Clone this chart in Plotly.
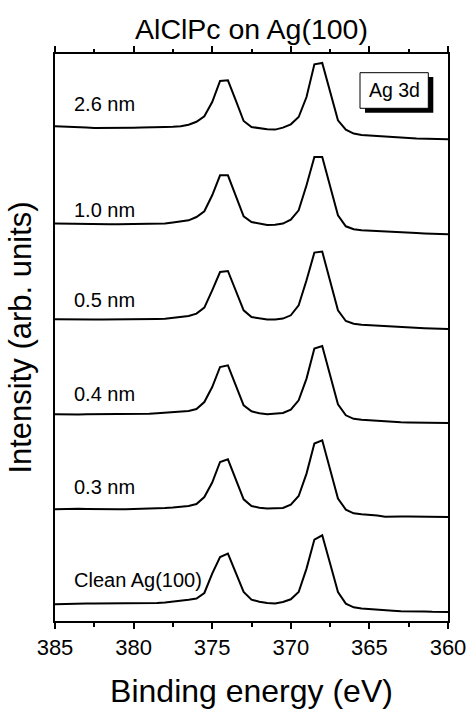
import plotly.graph_objects as go

# Binding energy grid (eV), 0.5 eV steps from 385 down to 360
energy = [385 - 0.5 * i for i in range(51)]

# Ag 3d spectra, stacked (arb. units), one list per coverage
clean_ag100 = [16.7, 17.0, 17.2, 17.3, 17.4, 17.4, 17.4, 17.4, 17.4, 17.4,
               17.4, 17.5, 17.7, 18.0, 18.4, 19.2, 20.0, 21.2, 22.4, 28.0,
               47.4, 64.0, 67.4, 47.4, 29.0, 21.4, 19.2, 18.0, 17.4, 19.0,
               21.7, 29.0, 52.4, 81.4, 85.7, 57.4, 29.0, 17.4, 13.7, 12.4,
               11.7, 11.2, 10.7, 10.2, 9.7, 9.8, 9.9, 9.5, 9.2, 9.1,
               9.0]
cov_0p3 = [111.7, 112.0, 112.4, 112.2, 112.0, 111.8, 111.7, 111.7, 111.7, 111.8,
           111.9, 112.1, 112.4, 112.6, 112.9, 113.4, 114.0, 115.0, 117.0, 124.0,
           138.4, 159.0, 161.7, 142.4, 121.7, 115.0, 113.2, 112.4, 112.5, 113.0,
           116.4, 125.0, 147.4, 177.4, 180.7, 150.7, 122.4, 111.4, 107.7, 106.7,
           106.2, 105.5, 104.2, 104.0, 104.4, 104.5, 104.5, 104.3, 104.2, 104.1,
           104.0]
cov_0p4 = [206.7, 206.5, 206.4, 206.5, 206.7, 206.7, 206.7, 206.7, 206.7, 206.8,
           206.9, 207.0, 207.2, 207.7, 208.2, 208.4, 209.2, 210.0, 212.0, 219.0,
           234.0, 254.0, 255.7, 235.7, 215.7, 209.7, 207.7, 206.7, 207.2, 208.0,
           211.4, 220.7, 242.4, 272.4, 275.0, 245.7, 216.7, 205.7, 202.2, 201.2,
           200.7, 200.2, 199.2, 198.9, 198.7, 198.6, 198.5, 198.3, 198.2, 198.1,
           198.0]
cov_0p5 = [301.7, 301.5, 301.4, 301.4, 301.4, 301.4, 301.4, 301.4, 301.4, 301.5,
           301.6, 301.7, 301.7, 302.0, 302.2, 303.0, 304.0, 305.0, 307.4, 313.4,
           330.7, 349.0, 350.0, 330.7, 310.7, 304.0, 302.4, 301.4, 301.4, 302.4,
           305.7, 315.7, 340.7, 368.4, 369.4, 340.7, 310.7, 300.0, 297.2, 296.2,
           295.7, 295.2, 294.7, 294.3, 293.9, 293.4, 293.1, 292.8, 292.5, 292.2,
           292.0]
cov_1p0 = [397.4, 397.2, 397.0, 396.8, 396.7, 396.7, 396.7, 396.7, 396.7, 396.7,
           396.7, 396.8, 396.9, 397.1, 397.4, 398.4, 399.2, 400.7, 404.0, 409.7,
           425.7, 445.7, 445.7, 425.7, 404.7, 399.0, 397.2, 396.0, 396.2, 397.4,
           401.4, 410.7, 435.7, 464.0, 464.0, 434.0, 405.7, 394.7, 391.7, 390.7,
           390.2, 389.7, 389.2, 388.9, 388.7, 388.4, 387.9, 387.5, 387.2, 386.9,
           386.7]
cov_2p6 = [494.7, 494.2, 493.9, 493.5, 493.4, 493.1, 493.0, 493.1, 493.0, 493.2,
           493.3, 493.4, 493.4, 493.7, 493.9, 494.2, 494.7, 496.2, 499.2, 504.7,
           519.0, 540.0, 540.7, 520.7, 500.0, 494.0, 492.7, 491.7, 491.4, 493.4,
           496.7, 504.0, 524.0, 556.7, 558.0, 530.7, 500.7, 491.4, 487.4, 486.0,
           485.4, 484.7, 484.2, 483.9, 483.4, 482.9, 482.5, 482.2, 482.0, 481.8,
           481.7]

spectra = [clean_ag100, cov_0p3, cov_0p4, cov_0p5, cov_1p0, cov_2p6]
labels = ["Clean Ag(100)", "0.3 nm", "0.4 nm", "0.5 nm", "1.0 nm", "2.6 nm"]

FONT = "Liberation Sans, Arial, Helvetica, sans-serif"
W, H = 472, 709
M_L, M_R, M_T, M_B = 55, 24, 54, 88

# label placement (left edge energy and vertical centre, in data units)
label_x = 383.95
label_y = [41.4, 134.0, 227.4, 320.7, 411.4, 517.0]

fig = go.Figure()
for ys, name in zip(spectra, labels):
    fig.add_trace(go.Scatter(x=energy, y=ys, mode="lines", name=name,
                             line=dict(color="black", width=2),
                             showlegend=False, hoverinfo="skip"))

annotations = []
for name, ly in zip(labels, label_y):
    annotations.append(dict(x=label_x, y=ly, xref="x", yref="y", text=name,
                            showarrow=False, xanchor="left", yanchor="middle",
                            font=dict(family=FONT, size=20, color="black")))


def px_to_paper(px, py):
    pw = W - M_L - M_R
    ph = H - M_T - M_B
    return (px - M_L) / pw, (H - M_B - py) / ph


# "Ag 3d" inset box with drop shadow
sx0, sy0 = px_to_paper(365, 112.7)
sx1, sy1 = px_to_paper(433.3, 77)
bx0, by0 = px_to_paper(360, 108.3)
bx1, by1 = px_to_paper(428.3, 72.7)
shapes = [
    dict(type="rect", xref="paper", yref="paper", x0=sx0, y0=sy0, x1=sx1, y1=sy1,
         fillcolor="black", line=dict(width=0), layer="above"),
    dict(type="rect", xref="paper", yref="paper", x0=bx0, y0=by0, x1=bx1, y1=by1,
         fillcolor="white", line=dict(color="black", width=1), layer="above"),
]
annotations.append(dict(x=(bx0 + bx1) / 2, y=(by0 + by1) / 2, xref="paper", yref="paper",
                        text="Ag 3d", showarrow=False, xanchor="center", yanchor="middle",
                        font=dict(family=FONT, size=19.5, color="black")))

fig.update_layout(
    width=W, height=H,
    margin=dict(l=M_L, r=M_R, t=M_T, b=M_B),
    paper_bgcolor="white", plot_bgcolor="white",
    font=dict(family=FONT, color="black"),
    title=dict(text="AlClPc on Ag(100)", x=0.5, xref="paper", xanchor="center",
               y=1 - 29 / H, yref="container", yanchor="middle",
               font=dict(family=FONT, size=28.5, color="black")),
    xaxis=dict(range=[385, 360], tick0=360, dtick=5, ticks="outside", ticklen=6,
               tickwidth=1.5, tickcolor="black",
               minor=dict(dtick=2.5, ticks="outside", ticklen=3.5, tickwidth=1.5,
                          tickcolor="black"),
               showline=True, linewidth=2, linecolor="black", mirror="allticks",
               showgrid=False, zeroline=False, automargin=False,
               tickfont=dict(family=FONT, size=22, color="black"),
               title=dict(text="Binding energy (eV)", standoff=20,
                          font=dict(family=FONT, size=32, color="black"))),
    yaxis=dict(range=[0, H - M_T - M_B], showline=True, linewidth=2, linecolor="black",
               mirror=True, ticks="", showticklabels=False, showgrid=False,
               zeroline=False, automargin=False,
               title=dict(text="Intensity (arb. units)", standoff=12,
                          font=dict(family=FONT, size=31, color="black"))),
    shapes=shapes,
    annotations=annotations,
)

fig.write_html("out.html")
